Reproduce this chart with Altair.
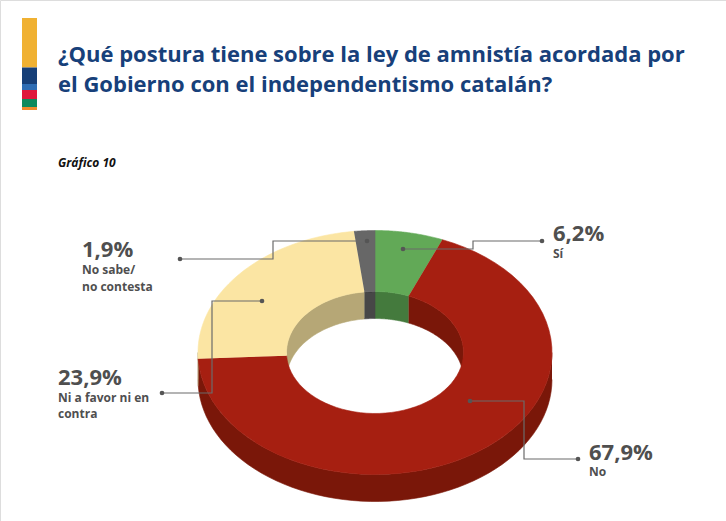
import altair as alt
import pandas as pd

# Survey answers, clockwise from 12 o'clock
categories = ["Sí", "No", "Ni a favor ni en contra", "No sabe/no contesta"]
shares = [6.2, 67.9, 23.9, 1.9]
category_lines = [["Sí"], ["No"], ["Ni a favor ni en", "contra"], ["No sabe/", "no contesta"]]
face_colors = ["#62a957", "#a61f11", "#fbe5a3", "#676767"]
wall_colors = ["#447a3d", "#7a1709", "#b6a776", "#474747"]

title_lines = [
    "¿Qué postura tiene sobre la ley de amnistía acordada por",
    "el Gobierno con el independentismo catalán?",
]
subtitle = "Gráfico 10"

# Layout of the page (pixels)
W, H = 726, 521
CX, CY, RX, RY = 375, 352.5, 177, 122   # centre and radii of the donut's top face
HOLE = 0.5                              # inner radius as a fraction of the outer one
DEPTH = 27                              # thickness of the tilted ring
STEPS = 60                              # points per arc

# label anchor (x of text, baseline of percentage, baselines of the category lines)
label_pos = [
    (553, 241, [258]),
    (589, 460, [476]),
    (58, 385, [402, 418]),
    (82, 257, [274, 291]),
]
# leader lines from the slice to the label
leader_paths = [
    [(403, 249), (473, 249), (473, 241), (542, 241)],
    [(470, 401), (524, 401), (524, 459), (578, 459)],
    [(262, 301), (212, 301), (212, 393), (162, 393)],
    [(367, 241), (273, 241), (273, 259), (180, 259)],
]
# coloured stripe at the left of the heading
stripe_colors = ["#f0b132", "#163f78", "#2e6db4", "#e0183c", "#0e8a5e", "#f08b2c"]
stripe_edges = [18, 67.5, 84, 90, 99, 107, 110]

TEXT_GREY = "#4f4f4f"
FONT = "Open Sans"

# ---- ring pieces: top faces, visible outer walls (near half), visible inner walls (far half)
total = sum(shares)
pieces = []
acc = 0.0
for i, v in enumerate(shares):
    s, e = acc / total, (acc + v) / total
    acc += v
    pieces.append(dict(pid=f"top{i}", part="top", a=s, b=e, r=1.0, col=face_colors[i]))
    for j, (lo, hi, part, r) in enumerate([(0.25, 0.75, "outer", 1.0),
                                           (0.0, 0.25, "inner", HOLE),
                                           (0.75, 1.0, "inner", HOLE)]):
        a, b = max(s, lo), min(e, hi)
        if b > a:
            pieces.append(dict(pid=f"{part}{i}_{j}", part=part, a=a, b=b, r=r, col=wall_colors[i]))
pieces_df = pd.DataFrame(pieces)

xs = alt.Scale(domain=[0, W], nice=False, zero=False)
ys = alt.Scale(domain=[0, H], nice=False, zero=False, reverse=True)
X = lambda f: alt.X(f, scale=xs, axis=None)
Y = lambda f: alt.Y(f, scale=ys, axis=None)

N = STEPS
ring = (
    alt.Chart(pieces_df)
    .transform_calculate(k=f"sequence(0, {2 * N + 2})")
    .transform_flatten(["k"])
    .transform_calculate(back=f"datum.k > {N}")
    .transform_calculate(t=f"datum.k <= {N} ? datum.k / {N} : ({2 * N + 1} - datum.k) / {N}")
    .transform_calculate(ang="2 * PI * (datum.a + (datum.b - datum.a) * datum.t)")
    .transform_calculate(rr=f"datum.part == 'top' ? (datum.back ? {HOLE} : 1) : datum.r")
    .transform_calculate(dy=f"datum.part == 'top' ? 0 : (datum.back ? {DEPTH} : 0)")
    .transform_calculate(px=f"{CX} + {RX} * datum.rr * sin(datum.ang)")
    .transform_calculate(py=f"{CY} - {RY} * datum.rr * cos(datum.ang) + datum.dy")
    .mark_line(strokeWidth=0.6, strokeJoin="round")
    .encode(
        x=X("px:Q"), y=Y("py:Q"),
        detail="pid:N", order="k:Q",
        fill=alt.Fill("col:N", scale=None),
        stroke=alt.Stroke("col:N", scale=None),
    )
)
inner_walls = ring.transform_filter("datum.part == 'inner'")
outer_walls = ring.transform_filter("datum.part == 'outer'")
top_faces = ring.transform_filter("datum.part == 'top'")

# ---- leader lines and dots
lead_rows = []
dot_rows = []
for i, path in enumerate(leader_paths):
    for k, (x, y) in enumerate(path):
        lead_rows.append(dict(lid=i, k=k, x=x, y=y))
    dot_rows.append(dict(x=path[0][0], y=path[0][1]))
    dot_rows.append(dict(x=path[-1][0], y=path[-1][1]))
leaders = alt.Chart(pd.DataFrame(lead_rows)).mark_line(color="#6b6b6b", strokeWidth=1.2).encode(
    x=X("x:Q"), y=Y("y:Q"), detail="lid:N", order="k:Q")
dots = alt.Chart(pd.DataFrame(dot_rows)).mark_circle(color="#555555", size=22, opacity=1).encode(
    x=X("x:Q"), y=Y("y:Q"))

# ---- labels
pct_rows, name_rows = [], []
for v, lines, (x, yb, ybs) in zip(shares, category_lines, label_pos):
    pct_rows.append(dict(x=x, y=yb, txt=f"{v:.1f}".replace(".", ",") + "%"))
    for line, yl in zip(lines, ybs):
        name_rows.append(dict(x=x, y=yl, txt=line))
pct_text = alt.Chart(pd.DataFrame(pct_rows)).mark_text(
    align="left", baseline="alphabetic", font=FONT, fontSize=22, fontWeight="bold", color=TEXT_GREY
).encode(x=X("x:Q"), y=Y("y:Q"), text="txt:N")
name_text = alt.Chart(pd.DataFrame(name_rows)).mark_text(
    align="left", baseline="alphabetic", font=FONT, fontSize=12, fontWeight="bold", color=TEXT_GREY
).encode(x=X("x:Q"), y=Y("y:Q"), text="txt:N")

# ---- heading
head_df = pd.DataFrame({"x": [58, 58], "y": [61.5, 91.5], "txt": title_lines})
heading = alt.Chart(head_df).mark_text(
    align="left", baseline="alphabetic", font=FONT, fontSize=22, fontWeight="bold", color="#17407a"
).encode(x=X("x:Q"), y=Y("y:Q"), text="txt:N")
sub = alt.Chart(pd.DataFrame({"x": [58], "y": [167], "txt": [subtitle]})).mark_text(
    align="left", baseline="alphabetic", font=FONT, fontSize=12, fontWeight="bold",
    fontStyle="italic", color="#111111"
).encode(x=X("x:Q"), y=Y("y:Q"), text="txt:N")

stripe_df = pd.DataFrame({
    "x": [22] * len(stripe_colors), "x2": [37] * len(stripe_colors),
    "y": stripe_edges[:-1], "y2": stripe_edges[1:], "col": stripe_colors,
})
stripe = alt.Chart(stripe_df).mark_rect().encode(
    x=X("x:Q"), x2="x2:Q", y=Y("y:Q"), y2="y2:Q", color=alt.Color("col:N", scale=None))

chart = alt.layer(
    inner_walls, outer_walls, top_faces, leaders, dots, pct_text, name_text, heading, sub, stripe
).properties(
    width=W, height=H, autosize=alt.AutoSizeParams(type="none"), padding=0
).configure_view(stroke=None).configure(background="white")

chart.save("out.html", embed_options={"renderer": "svg", "actions": False})
